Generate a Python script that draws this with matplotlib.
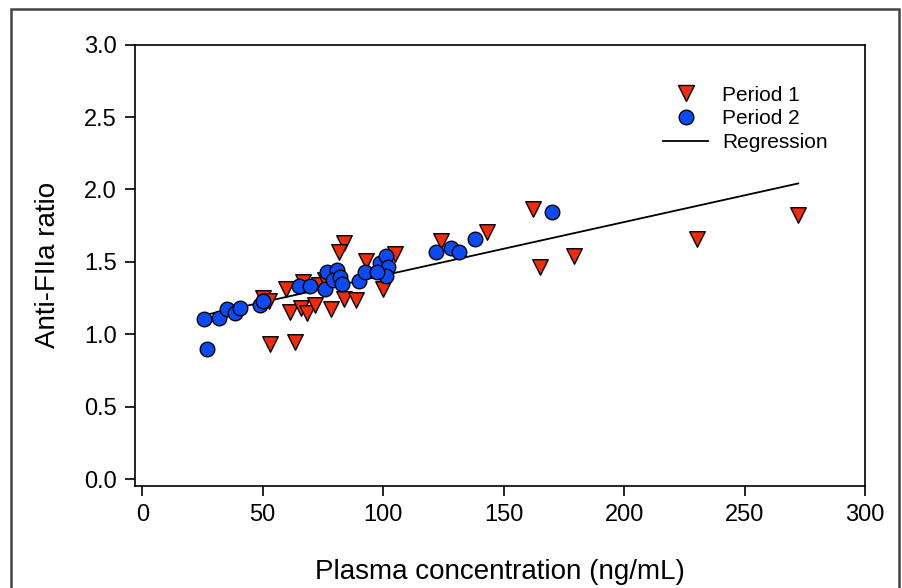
import numpy as np
import matplotlib.pyplot as plt
from matplotlib.patches import Rectangle
from matplotlib.lines import Line2D

plt.rcParams['font.family'] = ['Liberation Sans', 'DejaVu Sans']

# Period 1 (red triangles)
p1_x = [53.1, 63.5, 83.9, 81.6, 92.8, 105.1, 100.1, 59.6, 50.3, 52.8, 61.4, 65.8,
        68.3, 71.8, 78.4, 83.8, 88.7, 66.9, 73.2, 75.7, 124.1, 143.3, 162.1, 165.1,
        179.1, 230.3, 272.3]
p1_y = [0.93, 0.95, 1.628, 1.566, 1.508, 1.554, 1.312, 1.31, 1.248, 1.229, 1.151, 1.179,
        1.146, 1.202, 1.172, 1.243, 1.234, 1.363, 1.34, 1.374, 1.644, 1.708, 1.862, 1.462,
        1.542, 1.655, 1.823]

# Period 2 (blue circles)
p2_x = [25.7, 26.8, 31.7, 35.1, 38.6, 40.4, 48.7, 50.3, 64.9, 69.8, 75.9, 76.8, 81.0,
        79.1, 82.2, 83.1, 89.8, 92.3, 98.8, 101.1, 102.2, 101.1, 97.4, 122.0, 128.1,
        131.3, 138.2, 170.1]
p2_y = [1.107, 0.898, 1.11, 1.172, 1.149, 1.183, 1.2, 1.229, 1.331, 1.333, 1.31, 1.432,
        1.443, 1.374, 1.393, 1.347, 1.365, 1.432, 1.49, 1.542, 1.466, 1.402, 1.432, 1.566,
        1.593, 1.566, 1.66, 1.844]

# regression line
reg_intercept = 1.037
reg_slope = 0.00369
reg_x = [25.7, 272.3]

red = '#f42b0b'
blue = '#0b4bf5'

fig = plt.figure(figsize=(9.02, 5.88), dpi=100)
ax = fig.add_axes([135/902, 1-486/588, (865-135)/902, (486-44.7)/588])

rx = np.array(reg_x)
ax.plot(rx, reg_intercept + reg_slope*rx, color='black', lw=1.3, zorder=2)
ax.scatter(p1_x, p1_y, marker='v', s=125, c=red, edgecolors='black', linewidths=1.0, zorder=3)
ax.scatter(p2_x, p2_y, marker='o', s=110, c=blue, edgecolors='black', linewidths=1.0, zorder=4)

ax.set_xlim(-3, 300)
ax.set_ylim(-0.048, 3.0)
ax.set_xticks(np.arange(0, 301, 50))
ax.set_yticks(np.arange(0, 3.01, 0.5))
ax.set_yticklabels(['%.1f' % v for v in np.arange(0, 3.01, 0.5)])
ax.tick_params(direction='out', length=7, width=1.2, labelsize=17, pad=6)
for s in ax.spines.values():
    s.set_linewidth(1.2)

ax.set_xlabel('Plasma concentration (ng/mL)', fontsize=20, labelpad=24)
ax.set_ylabel('Anti-FIIa ratio', fontsize=20, labelpad=17)

handles = [Line2D([], [], marker='v', ls='none', ms=11, mfc=red, mec='black'),
           Line2D([], [], marker='o', ls='none', ms=10.5, mfc=blue, mec='black'),
           Line2D([], [], color='black', lw=1.3)]
ax.legend(handles, ['Period 1', 'Period 2', 'Regression'], loc='upper right',
          bbox_to_anchor=(0.975, 0.95), frameon=False, fontsize=15,
          handlelength=2.2, labelspacing=0.23, handletextpad=0.67)

# outer frame
fig.patches.append(Rectangle((11/902, -0.05), (899-11)/902, 1.05 - 9/588,
                             transform=fig.transFigure, fill=False,
                             edgecolor='#444444', lw=1.8))

fig.savefig('out.png', dpi=100)
